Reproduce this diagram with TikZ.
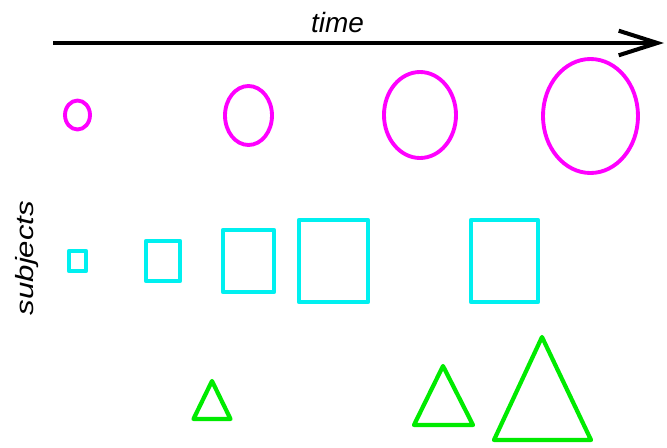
\documentclass[tikz,border=0pt]{standalone}
\usepackage{fontspec}
\setmainfont{Liberation Sans}
\usepackage{graphicx}
\usetikzlibrary{arrows.meta}
\definecolor{ovalpink}{RGB}{255,0,255}
\definecolor{boxcyan}{RGB}{0,240,240}
\definecolor{trigreen}{RGB}{0,235,0}
\begin{document}
\begin{tikzpicture}[x=0.02cm, y=-0.02cm,
    blob/.style={draw=ovalpink, line width=2.2pt},
    box/.style={draw=boxcyan, line width=2.4pt, line join=round},
    tri/.style={draw=trigreen, line width=2.4pt, line join=round},
    lbl/.style={font=\fontsize{15.9}{18}\selectfont\itshape, inner sep=0pt}]
        \useasboundingbox (0,0) rectangle (667,447);
        % time axis
        \coordinate (t0) at (53,43);
        \coordinate (t1) at (664,43);
        \draw[line width=2pt, -{Straight Barb[length=22pt, width=14pt, line width=2.3pt]}] (t0) -- (t1);
        \node[lbl, anchor=base] (time) at (337.5,32) {time};
        \node[lbl, font=\fontsize{14.2}{16}\selectfont\itshape, rotate=90] (subjects) at (27,258) {\scalebox{1.25}[1]{subjects}};
        % first subject
        \draw[blob] (77.5,115) ellipse [x radius=12.5, y radius=14.5];
        \draw[blob] (248.5,115.5) ellipse [x radius=23.5, y radius=29.5];
        \draw[blob] (420,115) ellipse [x radius=36, y radius=43];
        \draw[blob] (590.5,116) ellipse [x radius=47.5, y radius=57];
        % second subject
        \draw[box] (69,251) rectangle (86,271);
        \draw[box] (146,241) rectangle (180,281);
        \draw[box] (223,230) rectangle (274,292);
        \draw[box] (299,220) rectangle (368,302);
        \draw[box] (471,220) rectangle (538,302);
        % third subject
        \draw[tri] (212,381) -- (230.5,419) -- (193.5,419) -- cycle;
        \draw[tri] (443,366) -- (473,425) -- (414,425) -- cycle;
        \draw[tri] (542,337) -- (591,440) -- (494,440) -- cycle;
\end{tikzpicture}
\end{document}
